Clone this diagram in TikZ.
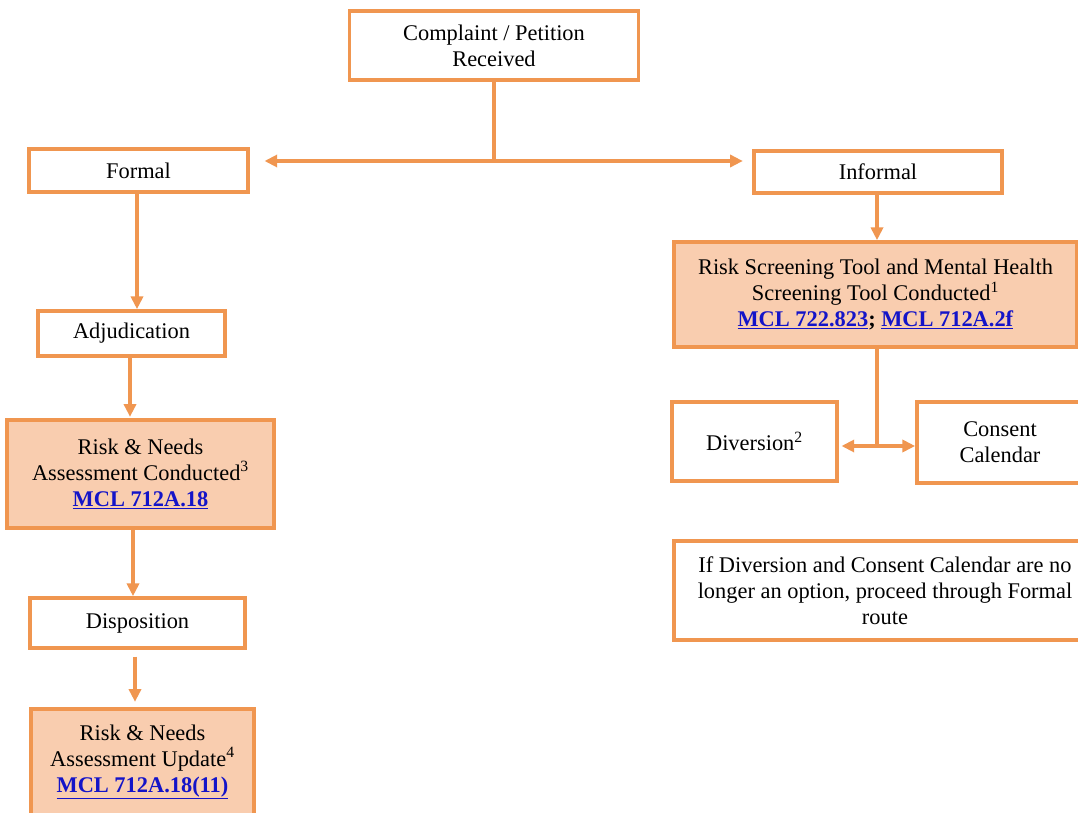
\documentclass[tikz,border=0pt]{standalone}
\usepackage{fontspec}
\setmainfont{Liberation Serif}
\usetikzlibrary{arrows.meta}
\definecolor{orng}{RGB}{240,150,80}
\definecolor{peach}{RGB}{249,205,175}
\definecolor{linkblue}{RGB}{20,20,200}
\newcommand{\lnk}[1]{\textcolor{linkblue}{\underline{\textbf{#1}}}}
\tikzset{
  bx/.style 2 args={draw=orng, line width=2.8pt, fill=white, inner sep=0pt,
    minimum width=#1*0.75pt, minimum height=#2*0.75pt, align=center,
    font=\rmfamily\fontsize{16.8}{19.5}\selectfont, text=black},
  filled/.style={fill=peach},
  conn/.style={draw=orng, line width=2.5pt},
  arr/.style={conn, -{Triangle[length=9.5pt,width=9pt]}},
  darr/.style={conn, {Triangle[length=9.5pt,width=9pt]}-{Triangle[length=9.5pt,width=9pt]}}
}
\begin{document}
\begin{tikzpicture}[x=0.75pt,y=-0.75pt]
\useasboundingbox (0,0) rectangle (1078,813);
\clip (0,0) rectangle (1078,813);
\fill[white] (0,0) rectangle (1078,813);
% nodes
\node[bx={289}{69}] (cp) at (494,45.5) {Complaint / Petition\\Received};
\node[bx={219}{43}] (formal) at (138.5,170.5) {Formal};
\node[bx={248}{42}] (informal) at (878,172) {Informal};
\node[bx={403}{105},filled] (rst) at (875.5,294.5) {Risk Screening Tool and Mental Health\\Screening Tool Conducted\textsuperscript{1}\\\lnk{MCL 722.823}\textbf{;} \lnk{MCL 712A.2f}};
\node[bx={165}{79}] (div) at (754.5,441.5) {Diversion\textsuperscript{2}};
\node[bx={166}{81}] (cons) at (1000,442.5) {Consent\\Calendar};
\node[bx={422}{99}] (ifb) at (885,590.5) {If Diversion and Consent Calendar are no\\longer an option, proceed through Formal\\route};
\node[bx={187}{45}] (adj) at (131.5,333.5) {Adjudication};
\node[bx={267}{108},filled] (cond) at (140.5,474) {Risk \& Needs\\Assessment Conducted\textsuperscript{3}\\\lnk{MCL 712A.18}};
\node[bx={215}{50}] (disp) at (137.5,623) {Disposition};
\node[bx={223}{106},filled] (upd) at (142.5,762) {Risk \& Needs\\Assessment Update\textsuperscript{4}\\\lnk{MCL 712A.18(11)}};
% junctions
\coordinate (j1) at (494,161);
\coordinate (j2) at (877,446);
\coordinate (xa) at (137,0);
\coordinate (xb) at (130,0);
\coordinate (xc) at (133,0);
\coordinate (xd) at (135,0);
\coordinate (xe) at (877,0);
% connectors
\draw[conn] (cp.south) -- (cp.south |- j1);
\draw[arr, shorten >=11pt] (j1) -- (j1 -| formal.east);
\draw[arr, shorten >=7pt] (j1) -- (j1 -| informal.west);
\draw[arr] (informal.south -| xe) -- (rst.north -| xe);
\draw[conn] (rst.south -| j2) -- (j2);
\draw[darr, shorten <=2pt] (j2 -| div.east) -- (j2 -| cons.west);
\draw[arr] (formal.south -| xa) -- (adj.north -| xa);
\draw[arr, shorten >=1pt] (adj.south -| xb) -- (cond.north -| xb);
\draw[arr] (cond.south -| xc) -- (disp.north -| xc);
\draw[arr, shorten <=5pt, shorten >=4pt] (disp.south -| xd) -- (upd.north -| xd);
\end{tikzpicture}
\end{document}
